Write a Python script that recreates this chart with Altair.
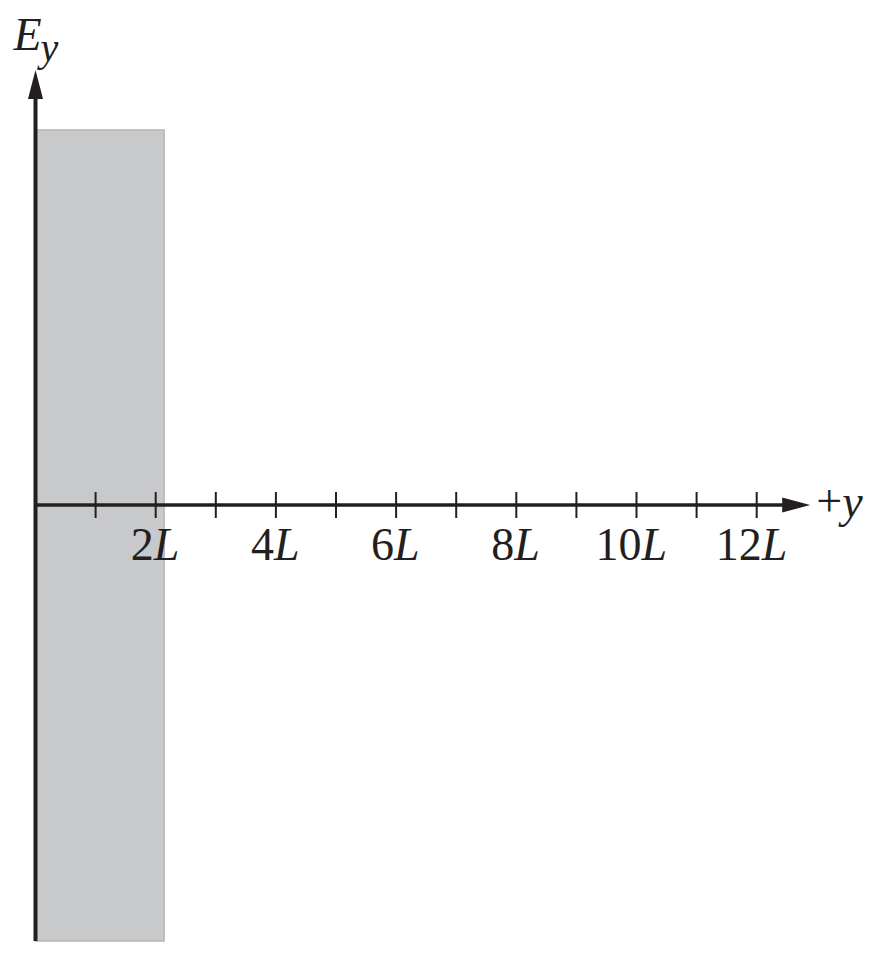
import altair as alt
import pandas as pd

# ---- data (values in units of L along +y, and arbitrary field units for E_y) ----
tick_positions = [1, 2, 3, 4, 5, 6, 7, 8, 9, 10, 11, 12]
label_positions = [2, 4, 6, 8, 10, 12]
label_numbers = ["2", "4", "6", "8", "10", "12"]
region_start = 0.0
region_end = 2.14
field_top = 1.0
field_bottom = -1.163
y_axis_top = 1.16      # tip of the E_y arrow
x_axis_end = 12.89     # tip of the +y arrow

INK = "#231f20"
FONT = "Liberation Serif"
FS = 46

xs = alt.Scale(domain=[-0.4576, 13.985], nice=False, zero=False)
ys = alt.Scale(domain=[-1.18667, 1.32533], nice=False, zero=False)

region = pd.DataFrame({"x": [region_start], "x2": [region_end],
                       "y": [field_bottom], "y2": [field_top]})
ticks = pd.DataFrame({"x": tick_positions})
labels = pd.DataFrame({"x": label_positions, "num": label_numbers,
                       "digits": [len(s) for s in label_numbers]})
axes_df = pd.DataFrame({"xe": [x_axis_end], "ye": [y_axis_top], "yb": [field_bottom]})

rect = alt.Chart(region).mark_rect(fill="#c8c9cb", stroke="#b4b5b7", strokeWidth=1.5).encode(
    x=alt.X("x:Q", scale=xs, axis=None), x2="x2:Q",
    y=alt.Y("y:Q", scale=ys, axis=None), y2="y2:Q",
)

# horizontal axis line (ends under arrow head)
hline = alt.Chart(axes_df).mark_rule(color=INK, strokeWidth=3.5).encode(
    x=alt.X("x0:Q", scale=xs, axis=None), x2="xh:Q",
    y=alt.Y("y0:Q", scale=ys, axis=None),
).transform_calculate(x0="0", xh="datum.xe - 0.3", y0="0")

vline = alt.Chart(axes_df).mark_rule(color=INK, strokeWidth=4).encode(
    x=alt.X("x0:Q", scale=xs, axis=None),
    y=alt.Y("yb:Q", scale=ys, axis=None), y2="yv:Q",
).transform_calculate(x0="0", yv="datum.ye - 0.05")

up_arrow = alt.Chart(axes_df).mark_point(
    shape="M0,0L0.52,2L-0.52,2Z", filled=True, size=841, color=INK, opacity=1
).encode(
    x=alt.X("x0:Q", scale=xs, axis=None),
    y=alt.Y("ye:Q", scale=ys, axis=None),
).transform_calculate(x0="0")

right_arrow = alt.Chart(axes_df).mark_point(
    shape="M0,0L-2,-0.54L-2,0.54Z", filled=True, size=784, color=INK, opacity=1
).encode(
    x=alt.X("xe:Q", scale=xs, axis=None),
    y=alt.Y("y0:Q", scale=ys, axis=None),
).transform_calculate(y0="0")

tick_marks = alt.Chart(ticks).mark_tick(color=INK, orient="vertical", size=26, thickness=2,
                                        opacity=1).encode(
    x=alt.X("x:Q", scale=xs, axis=None),
    y=alt.Y("y0:Q", scale=ys, axis=None),
).transform_calculate(y0="0")

def label_layer(ndig, dx):
    base = alt.Chart(labels).transform_filter(f"datum.digits == {ndig}").transform_calculate(
        y0="0", L="'L'")
    nums = base.mark_text(font=FONT, fontSize=FS, align="right", baseline="alphabetic",
                          dy=55, dx=dx, color=INK).encode(
        x=alt.X("x:Q", scale=xs, axis=None), y=alt.Y("y0:Q", scale=ys, axis=None),
        text="num:N")
    ls = base.mark_text(font=FONT, fontSize=FS, fontStyle="italic", align="left",
                        baseline="alphabetic", dy=55, dx=dx, color=INK).encode(
        x=alt.X("x:Q", scale=xs, axis=None), y=alt.Y("y0:Q", scale=ys, axis=None),
        text="L:N")
    return nums + ls

labels1 = label_layer(1, -2)
labels2 = label_layer(2, 5)

plus = alt.Chart(axes_df).mark_text(font=FONT, fontSize=FS, align="left", baseline="alphabetic",
                                    dx=6, dy=11, color=INK).encode(
    x=alt.X("xe:Q", scale=xs, axis=None), y=alt.Y("y0:Q", scale=ys, axis=None),
    text="t:N").transform_calculate(y0="0", t="'+'")
yvar = alt.Chart(axes_df).mark_text(font=FONT, fontSize=FS, fontStyle="italic", align="left",
                                    baseline="alphabetic", dx=32, dy=12, color=INK).encode(
    x=alt.X("xe:Q", scale=xs, axis=None), y=alt.Y("y0:Q", scale=ys, axis=None),
    text="t:N").transform_calculate(y0="0", t="'y'")

e_lbl = alt.Chart(axes_df).mark_text(font=FONT, fontSize=46, fontStyle="italic", align="left",
                                     baseline="alphabetic", dx=-22, dy=-20, color=INK).encode(
    x=alt.X("x0:Q", scale=xs, axis=None), y=alt.Y("ye:Q", scale=ys, axis=None),
    text="t:N").transform_calculate(x0="0", t="'E'")
e_sub = alt.Chart(axes_df).mark_text(font=FONT, fontSize=40, fontStyle="italic", align="left",
                                     baseline="alphabetic", dx=5, dy=-9, color=INK).encode(
    x=alt.X("x0:Q", scale=xs, axis=None), y=alt.Y("ye:Q", scale=ys, axis=None),
    text="t:N").transform_calculate(x0="0", t="'y'")

chart = alt.layer(
    rect, hline, vline, up_arrow, right_arrow, tick_marks, labels1, labels2,
    plus, yvar, e_lbl, e_sub
).properties(
    width=868, height=942, autosize=alt.AutoSizeParams(type="none"), padding=0,
    background="white"
).configure_view(stroke=None)

chart.save("out.html", embed_options={"renderer": "svg", "actions": False})
